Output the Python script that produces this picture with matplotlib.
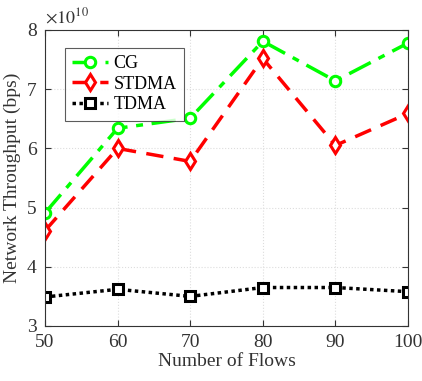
import matplotlib
matplotlib.use("Agg")
import matplotlib.pyplot as plt

flows = [50, 60, 70, 80, 90, 100]
cg = [4.91, 6.34, 6.51, 7.81, 7.14, 7.78]
stdma = [4.61, 6.00, 5.78, 7.52, 6.05, 6.59]
tdma = [3.49, 3.62, 3.50, 3.65, 3.65, 3.58]
scale = 1e10

plt.rcParams['font.family'] = ['Liberation Serif']
plt.rcParams['mathtext.fontset'] = 'stix'

fig = plt.figure(figsize=(4.22, 3.81), dpi=100)
ax = fig.add_axes([45/422, 1-326/381, 363/422, 296/381])

ax.plot(flows, [v*scale for v in cg], color='#00ff00', linestyle=(0, (7, 2.5, 2, 2.5)), lw=2.5,
        marker='o', ms=7.5, mfc='white', mec='#00ff00', mew=2.2, label='CG')
ax.plot(flows, [v*scale for v in stdma], color='#ff0000', linestyle=(0, (5, 3)), lw=2.5,
        marker='d', ms=8.5, mfc='white', mec='#ff0000', mew=2.2, label='STDMA')
ax.plot(flows, [v*scale for v in tdma], color='black', linestyle=(0, (1, 1)), lw=2.5,
        marker='s', ms=6.5, mfc='white', mec='black', mew=2.2, label='TDMA')

ax.set_xlim(50, 100)
ax.set_ylim(3e10, 8e10)
ax.set_xticks(flows)
ax.set_yticks([3e10, 4e10, 5e10, 6e10, 7e10, 8e10])
ax.set_yticklabels(['3', '4', '5', '6', '7', '8'])
ax.text(0.0, 1.01, r'$\times 10^{10}$', transform=ax.transAxes, fontsize=13, color='#333333',
        ha='left', va='bottom')
ax.grid(True, linestyle=':', color='#dddddd', lw=0.8)
ax.tick_params(labelsize=14, colors='#333333', direction='in', length=4, top=True, right=True,
               pad=6)
for s in ax.spines.values():
    s.set_color('#333333')
ax.set_xlabel('Number of Flows', fontsize=14, color='#333333', labelpad=1)
ax.set_ylabel('Network Throughput (bps)', fontsize=14, color='#333333', labelpad=4)
leg = ax.legend(loc='upper left', fontsize=13, fancybox=False, edgecolor='#333333',
                handlelength=2.0, labelspacing=0.2, borderpad=0.4, handletextpad=0.3,
                bbox_to_anchor=(0.03, 0.97))
leg.get_frame().set_linewidth(0.8)
fig.savefig('out.png', dpi=100)
